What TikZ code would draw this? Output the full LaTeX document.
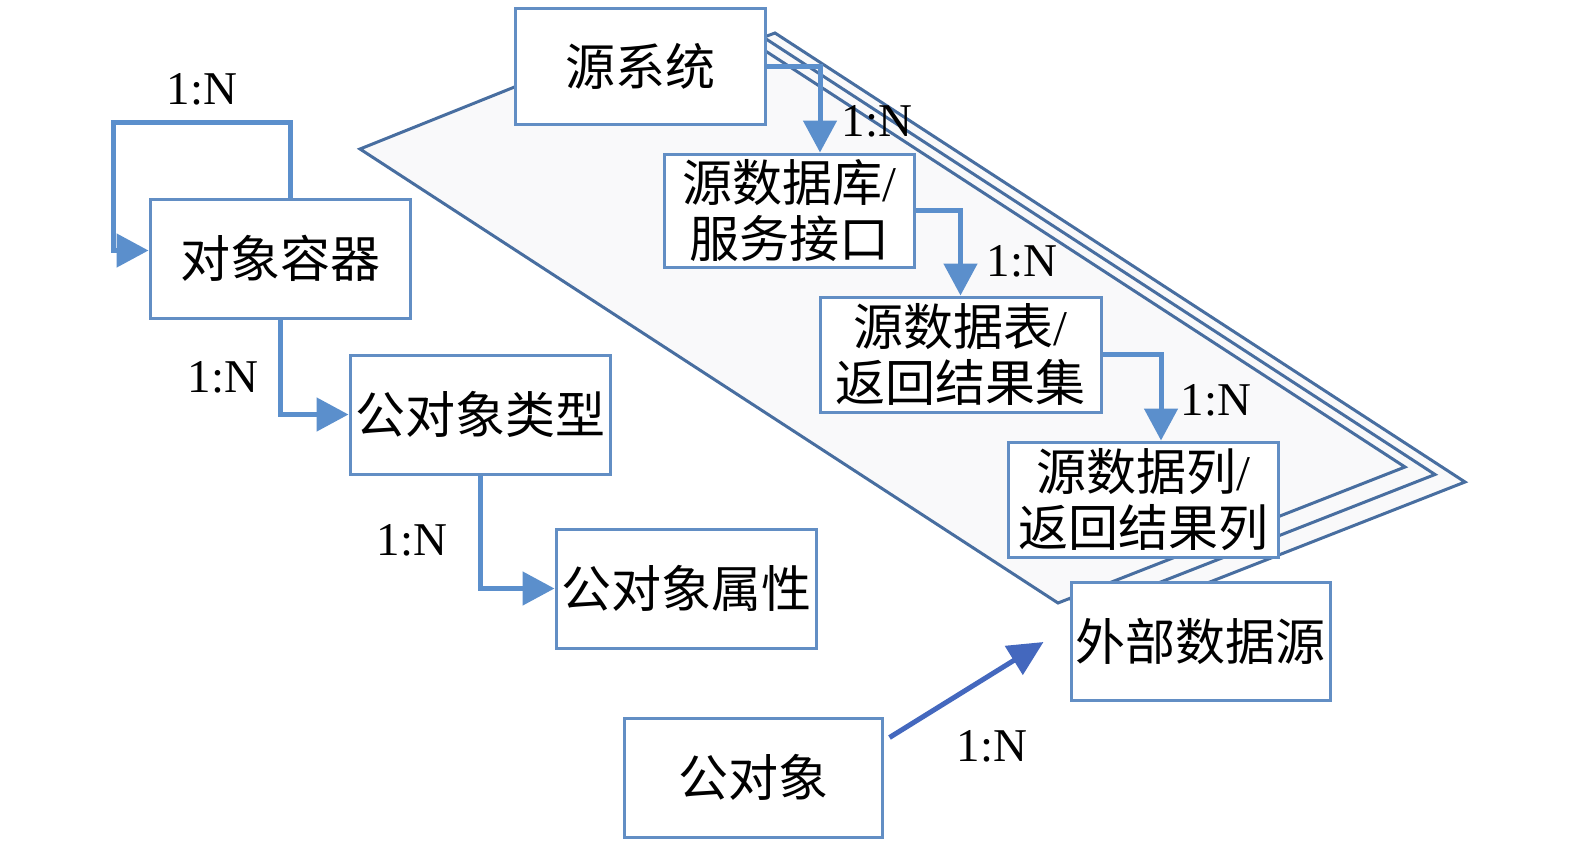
\documentclass[tikz,border=0pt]{standalone}
\usepackage{fontspec}
\setmainfont{Liberation Serif}
\newfontfamily\cjk{Noto Sans CJK SC}
\usetikzlibrary{arrows.meta,calc}
\definecolor{boxblue}{RGB}{98,142,196}
\definecolor{linkblue}{RGB}{91,143,204}
\definecolor{paraline}{RGB}{72,110,160}
\definecolor{parafill}{RGB}{249,249,250}
\definecolor{darkarrow}{RGB}{68,104,190}
\begin{document}
\begin{tikzpicture}[x=1pt,y=-1pt,
  box/.style={draw=boxblue,line width=3pt,fill=white,inner sep=0pt,align=center,
              font=\cjk\fontsize{50}{56}\selectfont},
  link/.style={draw=linkblue,line width=5pt,-{Triangle[length=32pt,width=33pt]}},
  darklink/.style={draw=darkarrow,line width=5pt,-{Triangle[length=35pt,width=33pt]}},
  para/.style={draw=paraline,line width=3pt,fill=parafill,line join=miter},
  lbl/.style={font=\fontsize{47}{50}\selectfont,inner sep=0pt}]
\useasboundingbox (0,0) rectangle (1575,846);

% stacked parallelograms (back to front)
\draw[para] (420,164) -- (775,33) -- (1465,482) -- (1118,618) -- cycle;
\draw[para] (390,156.5) -- (740,22) -- (1435,474.5) -- (1088,610.5) -- cycle;
\draw[para] (360,149) -- (704,11) -- (1405,467) -- (1058,603) -- cycle;

% boxes
\node[box,minimum width=250pt,minimum height=116pt] (sys) at (640,66) {源系统};
\node[box,minimum width=250pt,minimum height=113pt] (db) at (789,210.5) {源数据库{\rmfamily/}\\服务接口};
\node[box,minimum width=281pt,minimum height=115pt] (tbl) at (960.5,354.5) {源数据表{\rmfamily/}\\返回结果集};
\node[box,minimum width=270pt,minimum height=115pt] (col) at (1143,499.5) {源数据列{\rmfamily/}\\返回结果列};
\node[box,minimum width=259pt,minimum height=118pt] (ext) at (1200.5,641) {外部数据源};
\node[box,minimum width=260pt,minimum height=119pt] (cont) at (280,258.5) {对象容器};
\node[box,minimum width=260pt,minimum height=119pt] (type) at (480,414.5) {公对象类型};
\node[box,minimum width=260pt,minimum height=119pt] (attr) at (686,588.5) {公对象属性};
\node[box,minimum width=258pt,minimum height=119pt] (obj) at (753,777.5) {公对象};

% connectors
\draw[link] (sys.east) -| ($(db.north)+(31,0)$);
\draw[link] (db.east) -| (tbl.north);
\draw[link] (tbl.east) -| ($(col.north)+(18,0)$);
\draw[link] ($(cont.north)+(10,0)$) -- ++(0,-75) -| ($(cont.west)+(-35,-8)$) -- ($(cont.west)+(0,-8)$);
\draw[link] (cont.south) |- (type.west);
\draw[link] (type.south) |- (attr.west);
\draw[darklink] ($(obj.north east)+(6,21)$) -- ($(ext.west)+(-26,1)$);

% labels
\node[lbl] (l1) at (877,121) {1:N};
\node[lbl] (l2) at (1022,261) {1:N};
\node[lbl] (l3) at (1216,400) {1:N};
\node[lbl] (l4) at (202,89) {1:N};
\node[lbl] (l5) at (223,377) {1:N};
\node[lbl] (l6) at (412,540) {1:N};
\node[lbl] (l7) at (992,746) {1:N};
\end{tikzpicture}
\end{document}
